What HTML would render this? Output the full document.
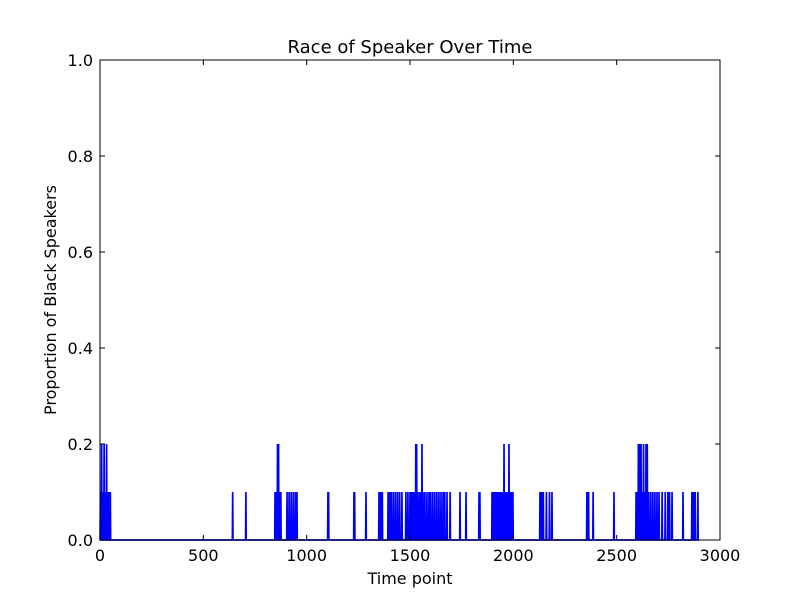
<!DOCTYPE html>
<html><head><meta charset="utf-8"><style>
body{margin:0;background:#fff;}
svg text{font-family:"DejaVu Sans","Liberation Sans",sans-serif;fill:#000;}
</style></head><body>
<svg id="chart" width="800" height="600" xmlns="http://www.w3.org/2000/svg">
<rect width="800" height="600" fill="#fff"/>
<text x="410" y="53" font-size="18" text-anchor="middle">Race of Speaker Over Time</text>
<text x="410" y="584" font-size="16" text-anchor="middle">Time point</text>
<text transform="translate(56,300) rotate(-90)" font-size="16" text-anchor="middle">Proportion of Black Speakers</text>
<g id="series"></g>
<g id="axes"></g>
<rect x="100" y="60" width="620" height="480" fill="none" stroke="#000" stroke-width="1"/>
</svg>
<script>
const xTicks=[0,500,1000,1500,2000,2500,3000];
const yTicks=[0,0.2,0.4,0.6,0.8,1.0];
const yTickLabels=["0.0","0.2","0.4","0.6","0.8","1.0"];
const spikeTimes=[2,8,14,20,26,32,38,44,50,642,706,847,853,859,864,869,875,905,915,925,935,945,953,1103,1106,1229,1232,1287,1350,1358,1366,1394,1402,1410,1420,1430,1440,1450,1461,1480,1490,1500,1508,1516,1522,1528,1532,1536,1545,1552,1558,1563,1572,1582,1592,1600,1610,1620,1630,1640,1650,1660,1668,1679,1694,1742,1771,1834,1838,1897,1905,1912,1920,1928,1935,1942,1950,1955,1962,1970,1979,1986,1992,1998,2129,2137,2145,2160,2175,2187,2356,2364,2386,2487,2594,2600,2605,2612,2618,2624,2630,2636,2642,2648,2655,2665,2675,2685,2695,2705,2720,2735,2748,2756,2768,2821,2864,2872,2880,2893];
const spikeValues=[0.1,0.2,0.1,0.2,0.1,0.2,0.1,0.1,0.1,0.1,0.1,0.1,0.1,0.2,0.2,0.1,0.1,0.1,0.1,0.1,0.1,0.1,0.1,0.1,0.1,0.1,0.1,0.1,0.1,0.1,0.1,0.1,0.1,0.1,0.1,0.1,0.1,0.1,0.1,0.1,0.1,0.1,0.1,0.1,0.1,0.2,0.2,0.1,0.1,0.1,0.2,0.1,0.1,0.1,0.1,0.1,0.1,0.1,0.1,0.1,0.1,0.1,0.1,0.1,0.1,0.1,0.1,0.1,0.1,0.1,0.1,0.1,0.1,0.1,0.1,0.1,0.1,0.2,0.1,0.1,0.2,0.1,0.1,0.1,0.1,0.1,0.1,0.1,0.1,0.1,0.1,0.1,0.1,0.1,0.1,0.1,0.2,0.2,0.2,0.1,0.2,0.1,0.2,0.2,0.1,0.1,0.1,0.1,0.1,0.1,0.1,0.1,0.1,0.1,0.1,0.1,0.1,0.1,0.1,0.1];
const X0=100,X1=720,Y0=540,Y1=60,xMax=3000,yMax=1;
const xs=v=>X0+(v/xMax)*(X1-X0);
const ys=v=>Y0-(v/yMax)*(Y0-Y1);
const NS="http://www.w3.org/2000/svg";
const axes=document.getElementById('axes');
function mk(tag,attrs,parent){const e=document.createElementNS(NS,tag);for(const k in attrs)e.setAttribute(k,attrs[k]);parent.appendChild(e);return e;}
let pts=[[0,0]];
spikeTimes.forEach((t,i)=>{pts.push([t-1.5,0]);pts.push([t,spikeValues[i]]);pts.push([t+1.5,0]);});
pts.push([2900,0]);
const sg=document.getElementById('series');
const pl=mk('polyline',{points:pts.map(p=>xs(p[0]).toFixed(2)+','+ys(p[1]).toFixed(2)).join(' '),fill:'none',stroke:'#0000ff','stroke-width':1.7},sg);


xTicks.forEach(v=>{
  const x=xs(v);
  const a=mk('line',{x1:x,x2:x,y1:Y0,y2:Y0-5,stroke:'#000'},axes);
  
  
  mk('line',{x1:x,x2:x,y1:Y1,y2:Y1+5,stroke:'#000'},axes);
  const t=mk('text',{x:x,y:Y0+21,'font-size':16,'text-anchor':'middle'},axes);
  t.textContent=v;
  
  
});
yTicks.forEach((v,i)=>{
  const y=ys(v);
  const a=mk('line',{x1:X0,x2:X0+5,y1:y,y2:y,stroke:'#000'},axes);
  
  
  mk('line',{x1:X1,x2:X1-5,y1:y,y2:y,stroke:'#000'},axes);
  const t=mk('text',{x:X0-7,y:y+6,'font-size':16,'text-anchor':'end'},axes);
  t.textContent=yTickLabels[i];
  
  
});
</script>
</body></html>
